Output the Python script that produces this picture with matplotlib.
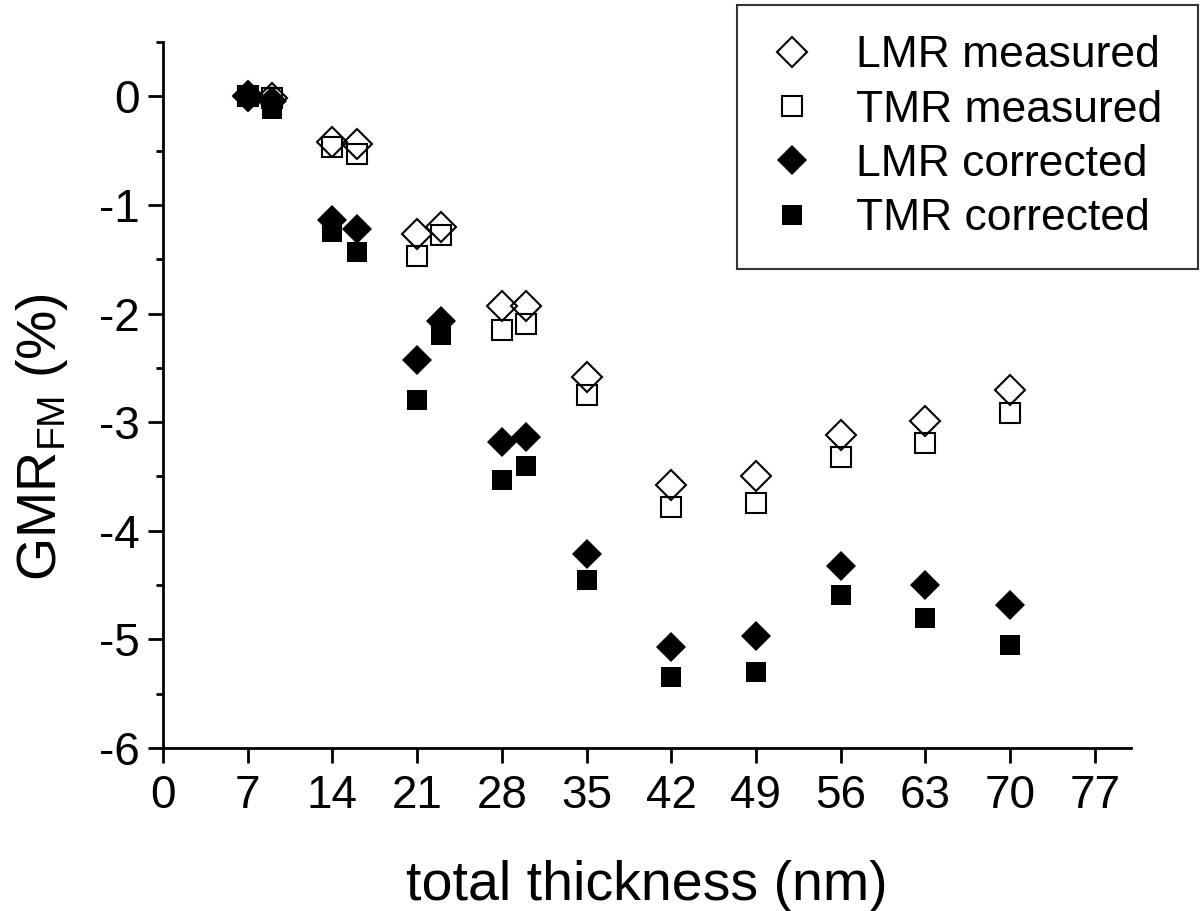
import matplotlib
matplotlib.use('Agg')
import matplotlib.pyplot as plt
from matplotlib.ticker import MultipleLocator

plt.rcParams['font.family'] = ['Liberation Sans', 'DejaVu Sans']
plt.rcParams['axes.unicode_minus'] = False

# total thickness (nm)
thickness = [7, 9, 14, 16, 21, 23, 28, 30, 35, 42, 49, 56, 63, 70]

lmr_measured = [0.0, -0.02, -0.42, -0.44, -1.27, -1.20, -1.93, -1.93, -2.58, -3.58, -3.50, -3.12, -2.99, -2.70]
tmr_measured = [0.0, -0.02, -0.47, -0.53, -1.47, -1.28, -2.15, -2.10, -2.75, -3.78, -3.74, -3.32, -3.19, -2.92]
lmr_corrected = [0.0, -0.04, -1.14, -1.22, -2.43, -2.07, -3.18, -3.14, -4.21, -5.07, -4.97, -4.32, -4.50, -4.68]
tmr_corrected = [0.0, -0.12, -1.25, -1.43, -2.80, -2.20, -3.53, -3.40, -4.45, -5.35, -5.30, -4.59, -4.80, -5.05]

xticks = [0, 7, 14, 21, 28, 35, 42, 49, 56, 63, 70, 77]
yticks = [0, -1, -2, -3, -4, -5, -6]

W, H = 1200, 911
fig = plt.figure(figsize=(12, 9.11), dpi=100)
ax = fig.add_axes([163 / W, 1 - 748 / H, (1131 - 163) / W, (748 - 42) / H])

ms = 15
ax.plot(thickness, lmr_measured, linestyle='None', marker='D', ms=ms,
        mfc='none', mec='black', mew=1.5, label='LMR measured')
ax.plot(thickness, tmr_measured, linestyle='None', marker='s', ms=ms,
        mfc='none', mec='black', mew=1.5, label='TMR measured')
ax.plot(thickness, lmr_corrected, linestyle='None', marker='D', ms=ms,
        mfc='black', mec='black', mew=0, label='LMR corrected')
ax.plot(thickness, tmr_corrected, linestyle='None', marker='s', ms=ms,
        mfc='black', mec='black', mew=0, label='TMR corrected')

ax.set_xlim(0, 80)
ax.set_ylim(-6, 0.5)
ax.set_xticks(xticks)
ax.set_yticks(yticks)
ax.yaxis.set_minor_locator(MultipleLocator(0.5))

for s in ['top', 'right']:
    ax.spines[s].set_visible(False)
for s in ['left', 'bottom']:
    ax.spines[s].set_linewidth(2)

ax.tick_params(which='major', direction='out', length=11, width=2, labelsize=33, pad=6)
ax.tick_params(axis='x', which='major', pad=8)
ax.tick_params(which='minor', direction='out', length=5, width=2)

ax.set_xlabel('total thickness (nm)', fontsize=40, labelpad=30)
ax.set_ylabel(r'GMR$_{\mathregular{FM}}$ (%)', fontsize=40)
ax.yaxis.set_label_coords(-0.096, 0.44)

leg = fig.legend(loc='upper left',
                 bbox_to_anchor=(737 / W, 1 - 265 / H, (1198 - 737) / W, (265 - 5) / H),
                 mode='expand', fontsize=32, frameon=True, fancybox=False,
                 edgecolor='black', borderpad=0.68, labelspacing=0.3,
                 handletextpad=0.86, handlelength=1.13, borderaxespad=0)
leg.get_frame().set_linewidth(1.5)

fig.savefig('out.png', dpi=100)
